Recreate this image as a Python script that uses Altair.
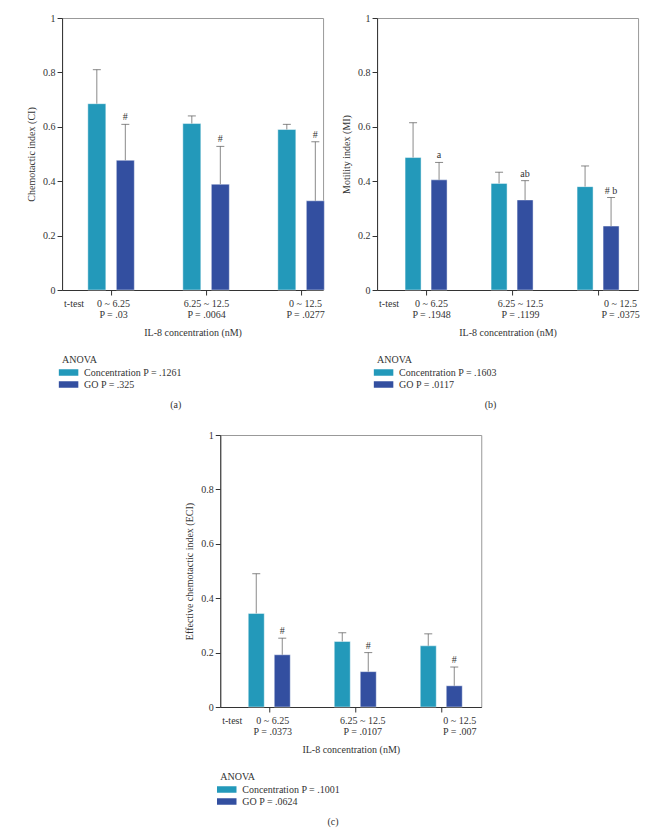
import altair as alt
import pandas as pd

FONT = "Liberation Serif"
TXT = "#333333"

groups = ["0 ~ 6.25", "6.25 ~ 12.5", "0 ~ 12.5"]
series = ["Concentration", "GO"]
colors = ["#2399BA", "#334FA0"]
y_ticks = [0, 0.2, 0.4, 0.6, 0.8, 1]

# Panel (a) Chemotactic index
a_conc = [0.685, 0.612, 0.590]
a_conc_err = [0.810, 0.640, 0.609]
a_go = [0.477, 0.389, 0.328]
a_go_err = [0.609, 0.528, 0.545]
a_ann = ["#", "#", "#"]
a_ttest = [".03", ".0064", ".0277"]
a_anova = [".1261", ".325"]

# Panel (b) Motility index
b_conc = [0.487, 0.392, 0.380]
b_conc_err = [0.615, 0.433, 0.456]
b_go = [0.405, 0.331, 0.235]
b_go_err = [0.469, 0.402, 0.340]
b_ann = ["a", "ab", "# b"]
b_ttest = [".1948", ".1199", ".0375"]
b_anova = [".1603", ".0117"]

# Panel (c) Effective chemotactic index
c_conc = [0.344, 0.241, 0.225]
c_conc_err = [0.490, 0.273, 0.269]
c_go = [0.192, 0.130, 0.078]
c_go_err = [0.253, 0.200, 0.147]
c_ann = ["#", "#", "#"]
c_ttest = [".0373", ".0107", ".007"]
c_anova = [".1001", ".0624"]

W, H = 261, 272


def js_list(vals):
    return "[" + ",".join("'" + v + "'" for v in vals) + "]"


def panel(conc, conc_err, go, go_err, ann, ttest, anova, ytitle, caption,
          step, off_px, half_px, lab_shift):
    df = pd.DataFrame({
        "g": [1, 2, 3] * 2,
        "series": [series[0]] * 3 + [series[1]] * 3,
        "value": conc + go,
        "err": conc_err + go_err,
        "ann": [""] * 3 + ann,
    })
    off = off_px / step
    half = half_px / step
    lo = 1 - 49 / step
    hi = 1 + (W - 49) / step
    tpos = 1 - 37.5 / step

    xscale = alt.Scale(domain=[lo, hi], nice=False, zero=False)
    yscale = alt.Scale(domain=[0, 1], nice=False)

    label_expr = (
        "datum.value < 1 ? 't-test' : ["
        + js_list(groups) + "[round(datum.value) - 1], 'P = ' + "
        + js_list(ttest) + "[round(datum.value) - 1]]"
    )
    xaxis = alt.Axis(
        values=[tpos, 1, 2, 3], labelExpr=label_expr, title="IL-8 concentration (nM)",
        tickOpacity={"condition": {"test": "datum.value < 1", "value": 0}, "value": 1},
        labelOffset={"condition": [
            {"test": "datum.value > 2.5", "value": lab_shift[2]},
            {"test": "datum.value > 1.5", "value": lab_shift[1]},
            {"test": "datum.value > 0.9", "value": lab_shift[0]},
        ], "value": 0},
        tickSize=5, labelPadding=3, labelLineHeight=11, labelAngle=0,
        labelAlign="center", labelBaseline="top", titlePadding=8, grid=False,
        labelFlush=False, labelOverlap=False,
    )
    yaxis = alt.Axis(
        values=y_ticks, format=".1~f", title=ytitle, tickSize=5, labelPadding=2,
        titlePadding=6, grid=False,
    )

    def X(f):
        return alt.X(f + ":Q", scale=xscale, axis=xaxis)

    def Y(f):
        return alt.Y(f + ":Q", scale=yscale, axis=yaxis)

    base = alt.Chart(df).transform_calculate(
        xc=f"datum.g + (datum.series == 'GO' ? {off} : {-off})",
    ).transform_calculate(
        x1=f"datum.xc - {half}", x2=f"datum.xc + {half}"
    )

    leg_expr = (
        "datum.label == 'Concentration' ? 'Concentration P = " + anova[0]
        + "' : 'GO P = " + anova[1] + "'"
    )
    bars = base.mark_bar(stroke="white", strokeOpacity=0.45, strokeWidth=1).encode(
        x=X("x1"), x2="x2:Q", y=Y("value"), y2=alt.datum(0),
        color=alt.Color(
            "series:N",
            scale=alt.Scale(domain=series, range=colors),
            legend=alt.Legend(
                title="ANOVA", orient="bottom", direction="vertical",
                labelExpr=leg_expr,
                symbolType="M-1.5,-0.5L1.5,-0.5L1.5,0.5L-1.5,0.5Z", symbolSize=169,
                symbolStrokeWidth=0, symbolOpacity=1, offset=18, rowPadding=0,
                labelOffset=9, titlePadding=1, padding=0,
            ),
        ),
    )
    rules = base.mark_rule(color="#8a8a8a", strokeWidth=1).encode(
        x=X("xc"), y=Y("value"), y2="err:Q"
    )
    caps = base.mark_tick(orient="horizontal", size=8, thickness=1, color="#555555").encode(
        x=X("xc"), y=Y("err")
    )
    texts = base.transform_filter("datum.ann != ''").mark_text(
        dy=-7, font=FONT, fontSize=10, fill=TXT
    ).encode(x=X("xc"), y=Y("err"), text="ann:N")

    return alt.layer(bars, rules, caps, texts).properties(
        width=W, height=H,
        title=alt.TitleParams(caption, orient="bottom", anchor="middle", frame="bounds",
                              font=FONT, fontSize=10, fontWeight="normal", color=TXT,
                              offset=10),
    )


pa = panel(a_conc, a_conc_err, a_go, a_go_err, a_ann, a_ttest, a_anova,
           "Chemotactic index (CI)", "(a)", 95, 14.25, 9, [2, 0, 4])
pb = panel(b_conc, b_conc_err, b_go, b_go_err, b_ann, b_ttest, b_anova,
           "Motility index (MI)", "(b)", 86, 13, 8, [5, 8, 22])
pc = panel(c_conc, c_conc_err, c_go, c_go_err, c_ann, c_ttest, c_anova,
           "Effective chemotactic index (ECI)", "(c)", 86, 13, 8, [3, 7, 18])

top = alt.hconcat(pa, pb, spacing=15).resolve_scale(color="independent").resolve_legend(color="independent")
chart = alt.vconcat(top, pc, spacing=18, center=True).resolve_scale(
    color="independent"
).resolve_legend(color="independent").properties(
    padding={"left": 18, "top": 4, "right": 5, "bottom": 2}
).configure_view(stroke="#999999", strokeWidth=1).configure_axis(
    domainColor="#333333", tickColor="#333333", labelColor=TXT, titleColor=TXT,
    labelFont=FONT, titleFont=FONT, labelFontSize=10, titleFontSize=10,
    titleFontWeight="normal",
).configure_legend(
    labelFont=FONT, titleFont=FONT, labelFontSize=10, titleFontSize=10,
    titleFontWeight="normal", labelColor=TXT, titleColor=TXT,
)

chart.save("out.html", embed_options={"renderer": "svg", "actions": False})
